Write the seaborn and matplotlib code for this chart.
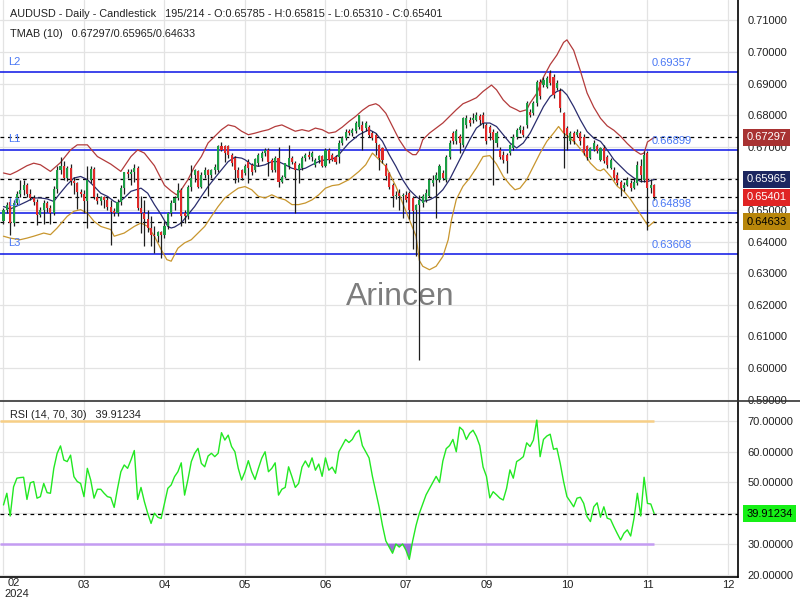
import numpy as np
import matplotlib
matplotlib.use("Agg")
import matplotlib.pyplot as plt
import seaborn as sns

# ---------------- data (prices in 1e-5 units) ----------------
opens = [64650,65000,65250,64580,65220,65500,65620,65780,65500,65380,65250,64850,65000,65220,65050,64900,65650,66280,66400,66000,
         66320,65920,65850,65580,65520,65270,65960,66300,65400,65280,65400,65300,65100,64980,64920,65250,65700,66200,66150,66200,
         66320,65050,64900,64700,64430,64200,64170,64300,64200,64500,64900,65220,65380,65640,64900,64800,65740,66110,66220,65740,
         66100,66270,66100,66270,66270,67010,67010,67010,66750,66640,66270,66270,66160,66530,66430,66270,66480,66640,66800,66900,
         66590,66270,66650,65900,66050,66400,66640,66500,66270,66320,66640,66750,66680,66430,66590,66700,66400,66900,66750,66690,
         66690,67120,67270,67490,67430,67490,67640,67690,67590,67640,67430,67380,67060,66960,66430,66170,65800,65430,65530,65430,
         65480,65530,65380,65010,65170,65220,65320,65430,65850,65960,65960,66170,65960,66690,67430,67170,67330,67060,67690,67850,
         67850,67850,67960,68010,67690,67640,67480,67120,66900,66750,66750,66800,66960,67320,67540,67540,67690,68110,68060,68380,
         69060,68960,68900,69330,69220,68850,68750,68060,67590,67170,67430,67380,67430,67320,67010,66640,66900,67010,66590,66960,
         66690,66330,66270,66120,65900,65690,65800,65850,65690,65850,66380,65960,66800,65700,65785]
highs = [65050,65250,65350,65300,65600,65950,65950,65850,65650,65480,65350,65100,65300,65280,65150,65750,66400,66690,66550,66400,
         66450,66050,65900,65650,65620,66380,66380,66350,65550,65450,65450,65400,65300,65050,65350,65800,66200,66300,66300,66450,
         66400,65450,65300,65000,64800,64500,64350,64350,64650,64950,65300,65450,65850,65700,65000,65800,66430,66300,66250,66200,
         66350,66300,66300,66450,67050,67140,67050,67050,66800,66700,66350,66300,66450,66600,66500,66650,66800,66850,66950,66950,
         66650,66700,67000,66100,66500,67060,66700,66550,66480,66700,66800,66850,66850,66650,66750,66750,66950,66950,66800,66750,
         67200,67350,67550,67550,67600,67800,68010,67800,67800,67700,67500,67450,67100,67000,66500,66200,65850,65600,65650,65550,
         65600,65600,65450,65200,65480,65500,65650,66000,66100,66200,66450,66250,66750,67200,67500,67550,67400,67950,68000,67950,
         68060,68100,68050,68100,67750,67700,67550,67500,67000,66850,66800,67100,67400,67600,67700,67650,68450,68200,68450,69100,
         69150,69200,69250,69420,69300,69100,68850,68100,67650,67500,67500,67550,67500,67400,67050,67000,67200,67100,67000,67050,
         66750,66650,66350,66200,65950,65900,66050,65950,66000,66550,66600,66850,66880,65980,65815]
lows = [64550,64900,64200,64500,65150,65400,65480,65400,65300,65150,64530,64780,64550,64950,64570,64850,65550,66150,65950,65920,
        65800,65500,65020,65400,64900,64430,65850,65350,65200,65150,65050,65000,63900,64800,64800,65150,65500,66000,65800,65900,
        65000,64270,63850,64300,63850,63640,64000,63480,64100,64400,64800,65000,65300,64480,64600,64700,65600,65900,65700,65700,
        66000,65430,66000,66150,66200,66850,66530,66640,66400,65850,65900,65950,66100,65850,66100,66200,66400,66550,66700,66060,
        66200,66200,65740,65850,66000,66300,66450,64900,65850,66250,66550,66600,66550,66350,66500,66350,66350,66500,66550,66450,
        66500,67050,67200,67380,67350,67450,67550,66900,67500,67300,67200,66750,66270,66500,65950,65650,65100,65350,65000,64750,
        65250,64700,63750,63530,60270,65100,65250,65400,65750,64750,65900,65950,65900,66600,67100,67100,66800,67000,67600,67650,
        67750,67800,67700,67600,67100,67200,65800,67000,66600,66500,66170,66750,66900,67250,67450,67300,67600,67950,68000,68300,
        68500,68900,68850,68950,68550,68800,68100,66330,66900,67100,67100,67300,67050,66750,66590,66600,66850,66800,66550,66500,
        66330,66300,65950,65800,65430,65600,65750,65600,65650,65800,65900,65900,64370,65550,65310]
closes = [65000,65170,64580,65220,65500,65620,65780,65500,65380,65250,64850,65000,65220,65050,64900,65650,66280,66400,66000,66320,
          65920,65850,65580,65520,65270,65960,66300,65400,65280,65400,65300,65100,64950,64920,65250,65700,66200,66150,66200,66320,
          65050,64900,64700,64430,64200,64170,64300,64200,64500,64900,65220,65380,65640,64800,64800,65740,66000,66270,65740,66100,
          66270,66100,66270,66370,67010,66900,66800,66750,66500,66270,66000,66000,66380,66320,66200,66600,66750,66800,66900,66530,
          66270,66650,65900,66050,66480,66640,66530,66270,66430,66640,66750,66680,66800,66590,66700,66400,66900,66590,66590,66530,
          67120,67270,67480,67430,67540,67750,68000,67490,67750,67380,67270,67120,66640,66590,66060,65740,65430,65480,65430,65480,
          65320,65010,64960,65170,65300,65430,65540,65960,65960,66110,66380,66010,66690,67120,67170,67490,67120,67910,67910,67750,
          67910,68010,67850,67750,67170,67430,67220,67430,66670,66590,66540,67060,67320,67540,67640,67380,68380,68010,68380,69060,
          68590,69110,69170,69010,68640,69010,68220,67430,67380,67430,67170,67480,67170,66800,66690,66960,67120,66850,66960,66540,
          66430,66590,66010,65850,65690,65800,65960,65690,65900,66430,66110,66750,65700,65800,65401]

rsi = [42.7,46.5,39.1,48.6,51.4,51.6,51.7,44.5,49.9,50.3,44.9,45.4,49.7,46.7,46.5,54.6,59.5,61.9,57.3,56.8,
       58.9,51.9,50.3,49.7,45.4,54.6,50.8,44.9,47.8,47.8,46.5,45.4,45.1,41.9,48.0,53.5,55.7,54.6,57.3,60.4,
       44.5,48.4,43.8,40.0,36.7,40.0,38.7,38.3,43.2,48.1,49.2,51.9,53.5,56.4,45.9,51.0,56.8,59.5,61.1,56.2,
       55.1,58.6,59.5,58.4,59.5,66.2,63.8,65.4,61.7,60.0,54.6,50.8,53.5,57.1,53.5,51.0,54.6,57.9,60.0,53.5,
       54.6,56.4,45.9,47.8,48.4,55.1,51.9,48.4,49.7,55.0,57.0,55.0,58.0,54.0,56.0,52.0,58.0,54.0,55.0,53.0,
       60.0,62.0,64.0,63.0,64.0,66.0,67.0,62.0,60.0,58.0,52.0,47.0,42.0,36.0,31.0,29.0,27.0,30.0,29.0,30.0,
       28.0,25.0,31.0,36.0,40.0,43.0,46.0,48.0,50.0,52.0,50.0,57.0,61.0,62.0,64.0,60.0,68.0,67.0,64.0,66.0,
       67.0,65.0,62.0,55.0,52.0,45.0,47.0,46.0,44.9,44.3,48.1,54.1,51.4,56.8,57.5,58.4,62.9,61.7,63.8,70.3,
       58.4,64.0,65.1,65.7,60.8,61.1,56.2,50.3,45.4,43.8,42.1,44.9,45.2,43.2,38.9,37.3,42.1,43.4,38.7,42.1,
       38.4,38.0,35.6,33.4,31.3,33.5,34.6,32.6,38.4,46.5,39.1,51.7,43.2,43.0,39.91234]

# TMA band readings (bar position, price)
mid_x = [0,2,5,7,9,11,13,15,16.5,19,21,23,25,27,29,31,33,34,36,38,41,43,45,47,49,50,51,53,55,57,59,61,63,65,67,69,71,72,74,76,
         78,80,82,84,86,88,90,92,94,96,98,100,103,106,109,111,113,115,117,119,121,123,125,127,129,131,133,135,137,139,141,143,145,
         147,149,151,153,155,157,159,161,163,165,166.5,168,170,172,174,176,178,180,182,184,186,188,190,192,194]
mid_y = [.6511,.6503,.6517,.6527,.6538,.6538,.6535,.6527,.6548,.6580,.6601,.6606,.6596,.6575,.6553,.6543,.6527,.6522,.6538,
         .6559,.6569,.6553,.6517,.6485,.6448,.6443,.6446,.6459,.6485,.6511,.6543,.6574,.6601,.6627,.6653,.6667,.6664,.6659,.6643,
         .6638,.6643,.6653,.6653,.6643,.6632,.6627,.6632,.6643,.6653,.6659,.6660,.6675,.6712,.6738,.6754,.6743,.6717,.6675,.6638,
         .6596,.6564,.6543,.6527,.6532,.6543,.6564,.6596,.6638,.6680,.6722,.6759,.6775,.6775,.6764,.6738,.6712,.6696,.6712,.6743,
         .6785,.6827,.6859,.6875,.6880,.6864,.6827,.6785,.6748,.6727,.6717,.6690,.6659,.6638,.6617,.6601,.6590,.6590,.65965]
up_x = [0,2,4,7,9,11,14,17,20,22,25,28,32,35,38,40,42,45,48,50,51.6,53,55,57,59,61,63,65,67,69,71,73,75,77,79,81,83,85,87,89,
        91,93,95,97,99,101,103,105,107,109,111,112,114,116,118,120,122,123,124,125,127,129,131,133,135,137,139,141,143,145.5,
        147,149,151,153,154,156,157,159,161,163,165,167,168,170,172,174,176,178,180,182,184,186,188,190,191,192,194]
up_y = [.6617,.6612,.6622,.6640,.6648,.6643,.6622,.6650,.6690,.6706,.6706,.6669,.6645,.6622,.6669,.6690,.6680,.6640,.6578,
        .6560,.6548,.6564,.6596,.6638,.6669,.6712,.6733,.6754,.6769,.6764,.6749,.6738,.6743,.6749,.6754,.6764,.6769,.6759,.6749,
        .6754,.6749,.6759,.6754,.6743,.6747,.6762,.6780,.6796,.6815,.6830,.6836,.6830,.6806,.6764,.6722,.6690,.6675,.6675,.6690,
        .6722,.6743,.6759,.6775,.6796,.6817,.6836,.6845,.6855,.6875,.6895,.6880,.6848,.6827,.6817,.6811,.6817,.6838,.6869,.6920,
        .6960,.6990,.7030,.7038,.7005,.6940,.6870,.6825,.6790,.6766,.6752,.6733,.6710,.6690,.6676,.6680,.6715,.67297]
lo_x = [0,2,5,7,9,12,14,16,19,21,23,25,27,29,32,33,36,39,41,43,45,47,48.7,50,52,54,56,58,60,62,64,66,68,70,72,74,76,78,80,82,
        84,86,88,90,92,94,96,98,100,103,106,108,110,112,114,115,117,119,121,123,124,125,127,129,131,132.6,133.6,135,137,139,141,
        143,145,147,149,151,152.5,154,156,158,160,162,164,165.5,167,169,171,173,175,177,178,179,181,183,185,187,189,191,192.3,194]
lo_y = [.6417,.6411,.6406,.6411,.6417,.6427,.6422,.6443,.6480,.6496,.6501,.6490,.6464,.6448,.6438,.6417,.6427,.6448,.6459,
        .6448,.6417,.6375,.6343,.6338,.6379,.6396,.6406,.6427,.6448,.6480,.6511,.6538,.6554,.6569,.6574,.6564,.6543,.6538,.6548,
        .6538,.6532,.6517,.6517,.6522,.6532,.6548,.6569,.6577,.6580,.6596,.6622,.6643,.6680,.6659,.6638,.6617,.6575,.6522,.6470,
        .6417,.6340,.6322,.6311,.6322,.6353,.6406,.6470,.6533,.6575,.6601,.6633,.6669,.6672,.6645,.6606,.6580,.6564,.6569,.6596,
        .6638,.6680,.6717,.6743,.6764,.6743,.6727,.6706,.6680,.6648,.6627,.6624,.6630,.6606,.6575,.6559,.6533,.6501,.6469,.6448,
        .64633]

blue_levels = [0.69357, 0.66899, 0.64898, 0.63608]
blue_names = ["L2", "L1", "L0", "L3"]
band_last = [0.67297, 0.65965, 0.64633]
last_close = 0.65401
rsi_last_text = "39.91234"
month_pos = [0, 24, 48, 72, 96, 120, 144, 168, 192, 216]
month_lab = ["02", "03", "04", "05", "06", "07", "09", "10", "11", "12"]
price_ticks = [0.59, 0.60, 0.61, 0.62, 0.63, 0.64, 0.65, 0.67, 0.68, 0.69, 0.70, 0.71]
price_grid = [0.59, 0.60, 0.61, 0.62, 0.63, 0.64, 0.65, 0.66, 0.67, 0.68, 0.69, 0.70, 0.71]
rsi_ticks = [20, 30, 50, 60, 70]
rsi_grid = [20, 30, 40, 50, 60, 70]

# ---------------- styling ----------------
sns.set_theme(style="white")
plt.rcParams['font.family'] = ['Liberation Sans', 'DejaVu Sans']
FS = 8.0

W, H = 800, 600
fig = plt.figure(figsize=(8, 6), dpi=100)
fig.patch.set_facecolor("white")

def fy(py):
    return 1 - py / H

XL = (-1.04, 219.0)
PY = (0.5899, 0.71641)
RY = (19.27, 76.5)
ax = fig.add_axes([0, fy(400), 738 / W, 400 / H])
ax2 = fig.add_axes([0, fy(577), 738 / W, 176 / H])

for a in (ax, ax2):
    a.set_facecolor("white")
    for s in ("left", "top", "bottom"):
        a.spines[s].set_visible(False)
    a.spines["right"].set_color("black")
    a.spines["right"].set_linewidth(1.2)
    a.yaxis.tick_right()
    a.tick_params(axis="y", length=0, pad=7, labelsize=FS, colors="#222222")
    a.tick_params(axis="x", length=0)
    for xp in month_pos:
        a.axvline(xp, color="#e3e3e3", lw=0.9, zorder=0)

ax.set_yticks(price_ticks)
ax.set_yticklabels([f"{t:.5f}" for t in price_ticks])
for t in price_grid:
    ax.axhline(t, color="#e3e3e3", lw=0.9, zorder=0)
ax.set_xticks([])

ax2.set_yticks(rsi_ticks)
ax2.set_yticklabels([f"{t:.5f}" for t in rsi_ticks])
for t in rsi_grid:
    ax2.axhline(t, color="#e3e3e3", lw=0.9, zorder=0)

# watermark
ax.text(400 / 738, 1 - 297 / 400, "Arincen", transform=ax.transAxes, ha="center", va="center",
        fontsize=23, color="#7d7d7d", zorder=1)

# level lines
for lv, nm in zip(blue_levels, blue_names):
    ax.axhline(lv, color="#0a14e6", lw=1.1, zorder=2)
    ax.annotate(nm, (0, lv), xycoords=("axes fraction", "data"), xytext=(6, 4), textcoords="offset points",
                color="#4a78f5", fontsize=FS, va="bottom", ha="left", zorder=6)
    ax.annotate(f"{lv:.5f}", (194, lv), xycoords="data", xytext=(-2, 3), textcoords="offset points",
                color="#4a78f5", fontsize=FS, va="bottom", ha="left", zorder=6)
for lv in band_last + [last_close]:
    ax.axhline(lv, color="black", lw=0.9, ls=(0, (3, 3)), zorder=2)

# TMA bands
sns.lineplot(x=up_x, y=up_y, ax=ax, color="#b33b3b", lw=0.9, zorder=3, estimator=None)
sns.lineplot(x=mid_x, y=mid_y, ax=ax, color="#2a2d6e", lw=0.9, zorder=3, estimator=None)
sns.lineplot(x=lo_x, y=lo_y, ax=ax, color="#c8962e", lw=0.9, zorder=3, estimator=None)

# candles
idx = np.arange(len(closes))
o = np.array(opens) / 1e5
h = np.array(highs) / 1e5
l = np.array(lows) / 1e5
c = np.array(closes) / 1e5
green = c >= o
ax.vlines(idx, l, h, color="#1e1e1e", lw=0.9, zorder=4)
ax.bar(idx, np.maximum(np.abs(c - o), 0.00013), bottom=np.minimum(o, c), width=0.62,
       color=np.where(green, "#1c9e45", "#e02a2a"), linewidth=0, zorder=5)
ax.set_ylabel("")
ax.set_xlabel("")
ax.set_xlim(*XL)
ax.set_ylim(*PY)

# right boxes on price axis
box_specs = [(band_last[0], "#a83232", "white"), (band_last[1], "#1c2660", "white"),
             (last_close, "#e02424", "white"), (band_last[2], "#b8860b", "black")]
for val, bg, fg in box_specs:
    ax.annotate(f"{val:.5f}", (1, val), xycoords=("axes fraction", "data"), xytext=(6.0, 0),
                textcoords="offset points", ha="left", va="center", fontsize=FS, color=fg,
                bbox=dict(boxstyle="square,pad=0.3", fc=bg, ec="none"), annotation_clip=False, zorder=10)

# RSI panel
ax2.hlines(70, XL[0], 194, color="#f7cf86", lw=1.8, zorder=2)
ax2.hlines(30, XL[0], 194, color="#c49cf2", lw=1.8, zorder=2)
ax2.axhline(float(rsi_last_text), color="black", lw=0.9, ls=(0, (3, 3)), zorder=2)
r = np.array(rsi)
ax2.fill_between(idx, r, 30, where=r < 30, interpolate=True, color="#9a6fd8", lw=0, zorder=3)
ax2.fill_between(idx, r, 70, where=r > 70, interpolate=True, color="#f0b860", lw=0, zorder=3)
sns.lineplot(x=idx, y=r, ax=ax2, color="#22e822", lw=1.0, zorder=4, estimator=None)
ax2.set_ylabel("")
ax2.set_xlabel("")
ax2.annotate(rsi_last_text, (1, float(rsi_last_text)), xycoords=("axes fraction", "data"), xytext=(6.0, 0),
             textcoords="offset points", ha="left", va="center", fontsize=FS, color="black",
             bbox=dict(boxstyle="square,pad=0.3", fc="#16f016", ec="none"), annotation_clip=False, zorder=10)

ax2.set_xticks(month_pos[1:])
ax2.set_xticklabels(month_lab[1:], fontsize=FS, color="#222222")
ax2.tick_params(axis="x", pad=2.5)
ax2.set_xlim(*XL)
ax2.set_ylim(*RY)
fig.text(8 / W, fy(583), month_lab[0], ha="left", va="center", fontsize=FS, color="#222222")
fig.text(4 / W, fy(594), "2024", ha="left", va="center", fontsize=FS, color="#222222")

# separators
fig.add_artist(plt.Line2D([0, 1], [fy(400.5), fy(400.5)], color="#333333", lw=1.2))
fig.add_artist(plt.Line2D([0, 738 / W], [fy(577), fy(577)], color="black", lw=1.2))

# header texts
fig.text(10 / W, fy(14), "AUDUSD - Daily - Candlestick   195/214 - O:0.65785 - H:0.65815 - L:0.65310 - C:0.65401",
         ha="left", va="center", fontsize=7.8, color="#222222")
fig.text(10 / W, fy(34), "TMAB (10)   0.67297/0.65965/0.64633", ha="left", va="center", fontsize=7.8, color="#222222")
fig.text(10 / W, fy(415), "RSI (14, 70, 30)   39.91234", ha="left", va="center", fontsize=7.8, color="#222222")

fig.savefig("out.png", dpi=100, facecolor="white")
